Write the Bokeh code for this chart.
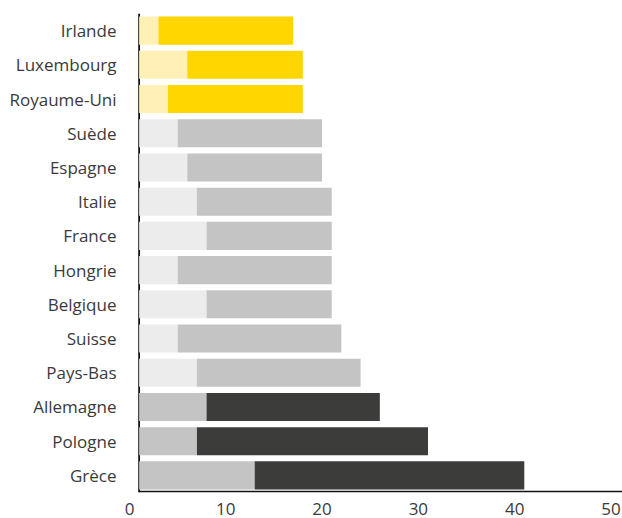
from bokeh.plotting import figure
from bokeh.models import Range1d, FactorRange, FixedTicker, ColumnDataSource, Span
from bokeh.embed import file_html
from bokeh.resources import INLINE

countries = ["Irlande", "Luxembourg", "Royaume-Uni", "Suède", "Espagne", "Italie",
             "France", "Hongrie", "Belgique", "Suisse", "Pays-Bas", "Allemagne",
             "Pologne", "Grèce"]
first_part = [3, 6, 4, 5, 6, 7, 8, 5, 8, 5, 7, 8, 7, 13]
total = [17, 18, 18, 20, 20, 21, 21, 21, 21, 22, 24, 26, 31, 41]
group = ["top"] * 3 + ["mid"] * 8 + ["bottom"] * 3
origin = 1
x_ticks = [0, 10, 20, 30, 40, 50]
x_end = 51.2

palette = {
    "top": ("#FFF1B5", "#FFD600"),
    "mid": ("#ECECEC", "#C4C4C4"),
    "bottom": ("#C4C4C4", "#3C3C3A"),
}

src = ColumnDataSource(dict(
    country=countries,
    origin=[origin] * len(countries),
    first=first_part,
    total=total,
    c1=[palette[g][0] for g in group],
    c2=[palette[g][1] for g in group],
))

FONT = "Open Sans"
TXT = "#3a3a3a"

p = figure(width=622, height=518,
           y_range=FactorRange(factors=countries[::-1], range_padding=0),
           x_range=Range1d(0, x_end),
           output_backend="svg", toolbar_location=None,
           min_border_left=129, min_border_right=0,
           min_border_top=13, min_border_bottom=26)

# vertical axis line (under the bars)
p.add_layout(Span(location=origin, dimension="height", line_color="#111111",
                  line_width=1.8, level="underlay"))

p.hbar(y="country", left="origin", right="first", height=0.82,
       fill_color="c1", line_color=None, source=src)
p.hbar(y="country", left="first", right="total", height=0.82,
       fill_color="c2", line_color=None, source=src)

# horizontal baseline, just above the bottom edge of the last category band
base_y = (countries[-1], -0.475)
p.segment(x0=[origin], y0=[base_y], x1=[x_end], y1=[base_y],
          line_color="#111111", line_width=1.7)

p.xgrid.grid_line_color = None
p.ygrid.grid_line_color = None
p.outline_line_color = None
p.background_fill_color = "white"
p.border_fill_color = "white"

xa = p.xaxis[0]
xa.ticker = FixedTicker(ticks=x_ticks)
xa.axis_line_color = None
xa.major_tick_line_color = None
xa.minor_tick_line_color = None
xa.major_tick_out = 0
xa.major_tick_in = 0
xa.major_label_standoff = 10
xa.major_label_text_font = FONT
xa.major_label_text_font_size = "17px"
xa.major_label_text_color = TXT

ya = p.yaxis[0]
ya.axis_line_color = None
ya.major_tick_line_color = None
ya.minor_tick_line_color = None
ya.major_tick_out = 0
ya.major_tick_in = 0
ya.major_label_standoff = 13
ya.major_label_text_font = FONT
ya.major_label_text_font_size = "17px"
ya.major_label_text_color = TXT

open("out.html", "w").write(file_html(p, INLINE))
